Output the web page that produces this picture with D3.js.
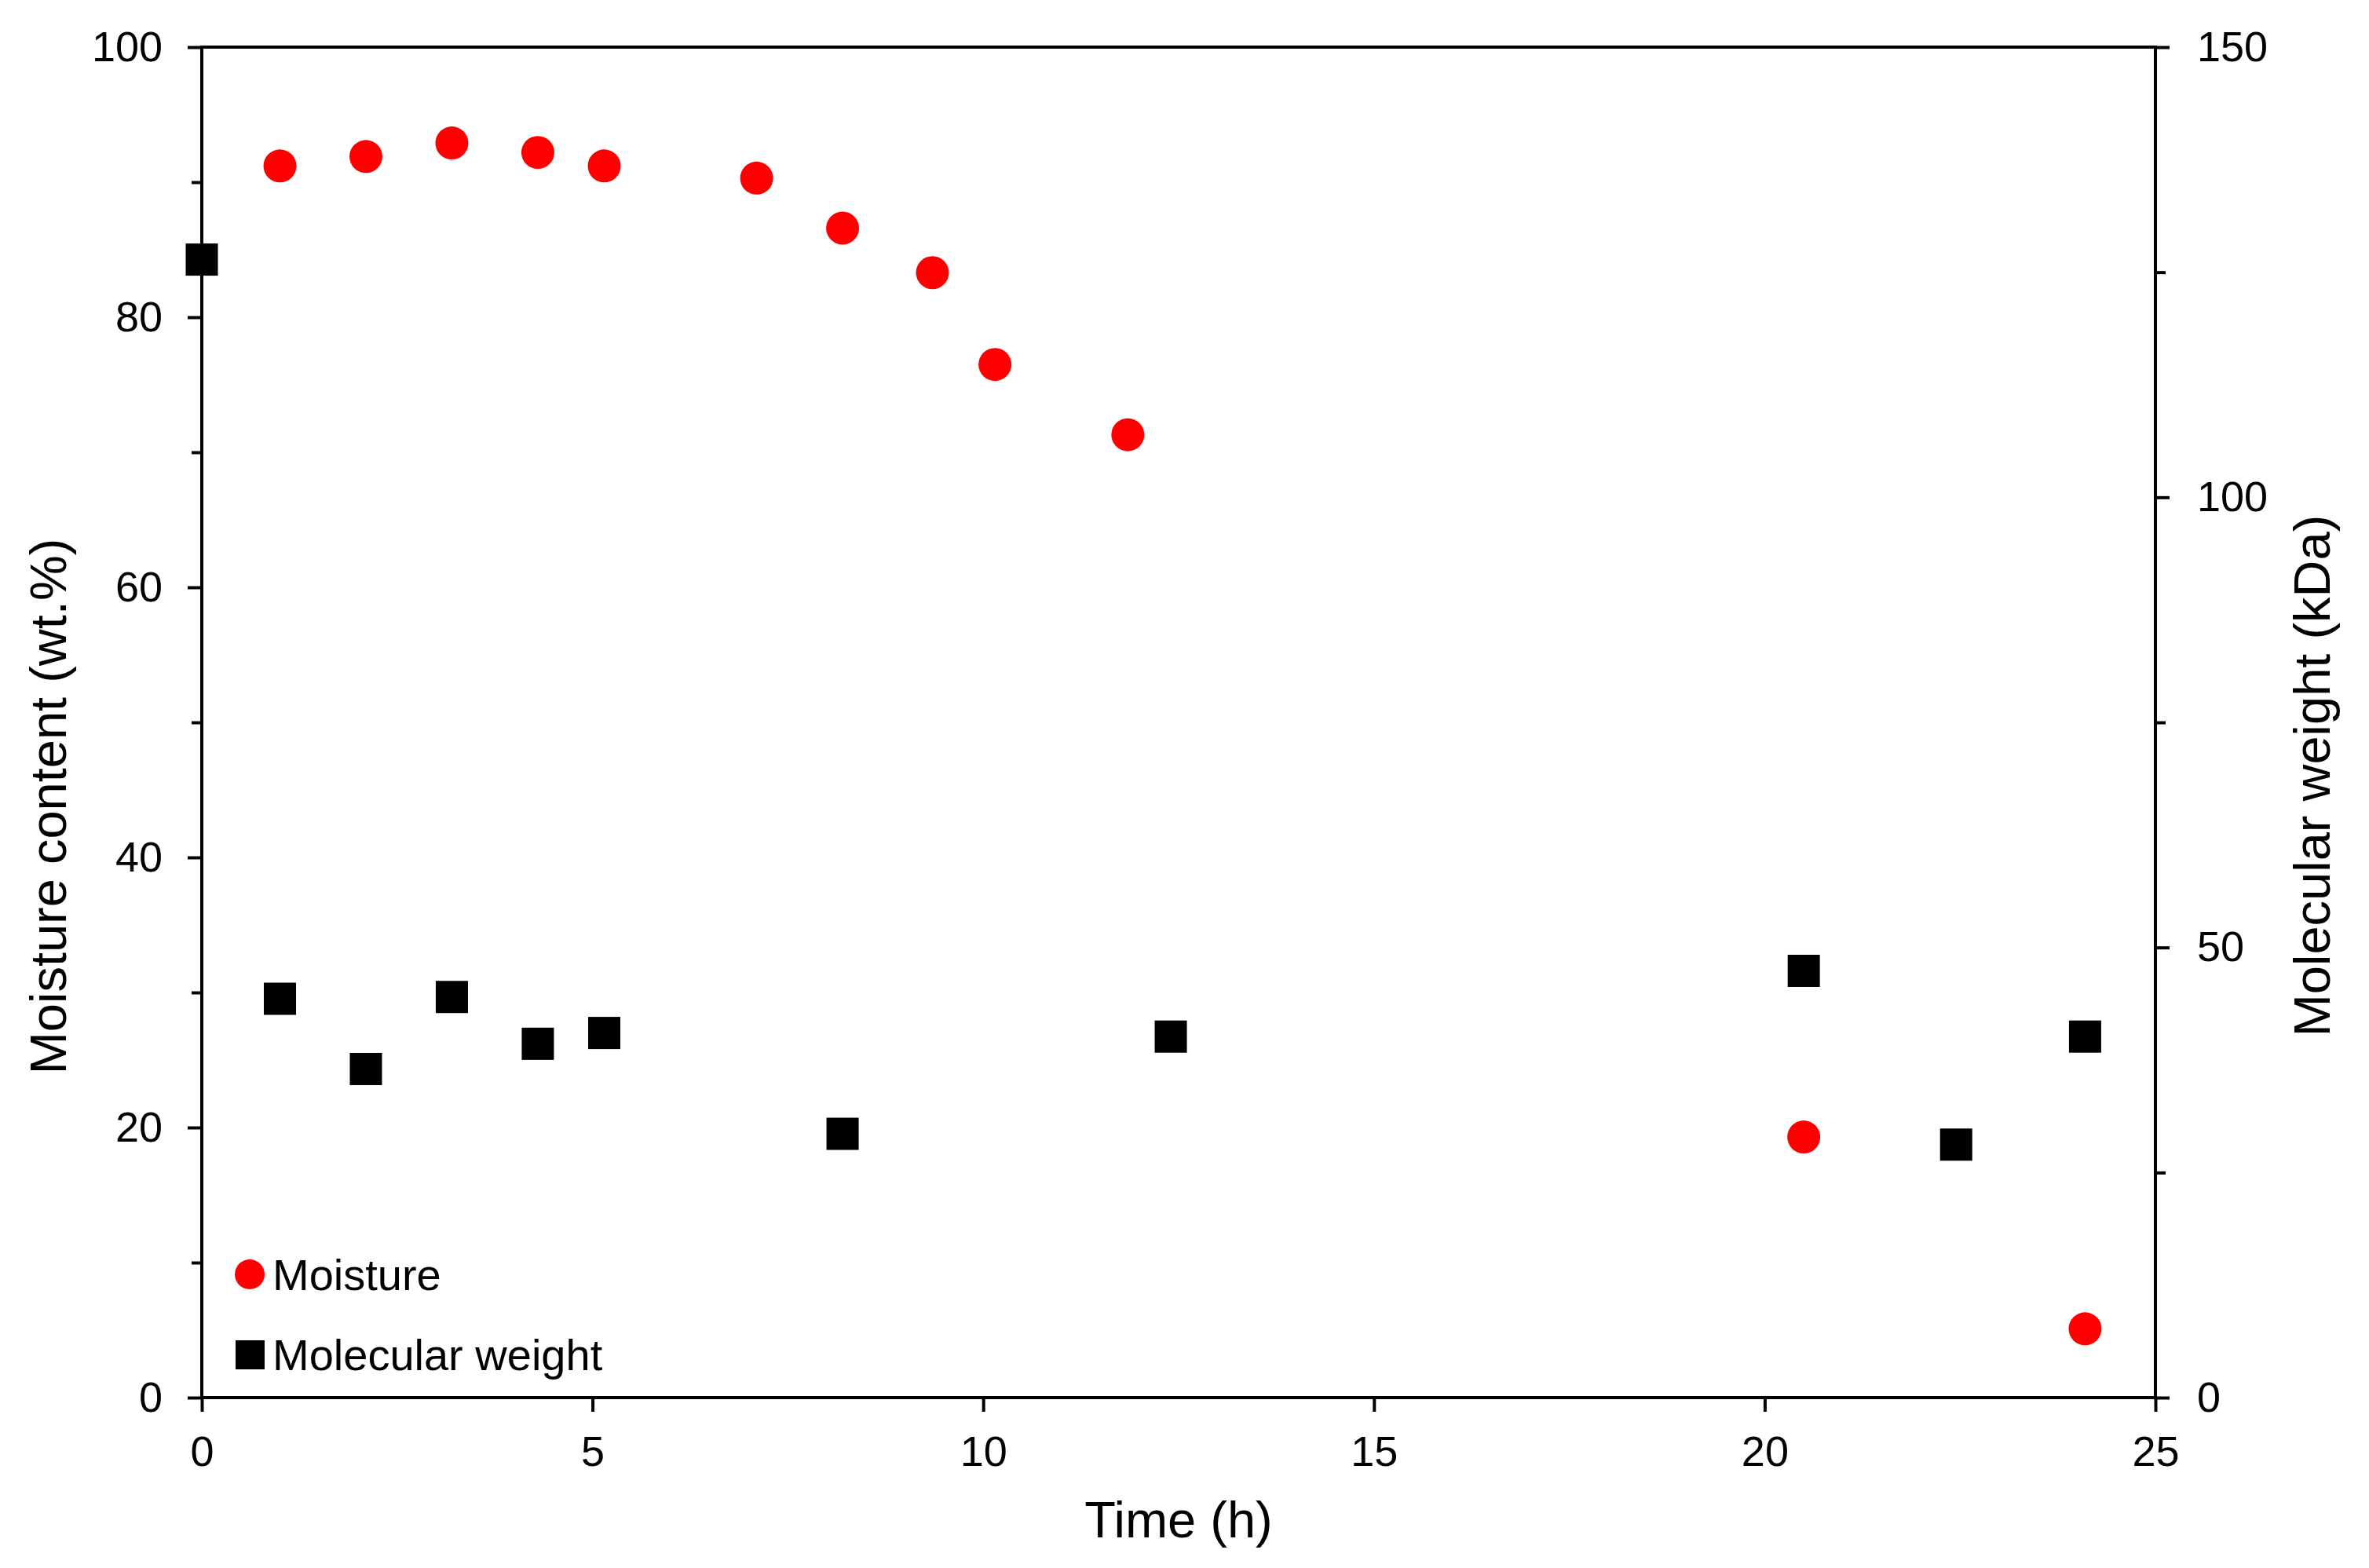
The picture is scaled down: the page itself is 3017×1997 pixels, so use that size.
<!DOCTYPE html>
<html>
<head>
<meta charset="utf-8">
<script src="https://cdn.jsdelivr.net/npm/d3@7"></script>
<style>
  body { margin: 0; background: #fff; }
  svg text { font-family: "Liberation Sans", Arial, sans-serif; fill: #000; }
</style>
</head>
<body>
<div id="chart"></div>
<script>
// Moisture content and molecular weight vs drying time

// Moisture series (left axis, wt.%)
var moistureTime = [1.0, 2.1, 3.2, 4.3, 5.15, 7.1, 8.2, 9.35, 10.15, 11.85, 20.5, 24.1];
var moistureValue = [91.2, 91.9, 92.9, 92.2, 91.2, 90.3, 86.6, 83.3, 76.5, 71.3, 19.3, 5.1];

// Molecular weight series (right axis, kDa)
var mwTime = [0, 1.0, 2.1, 3.2, 4.3, 5.15, 8.2, 12.4, 20.5, 22.45, 24.1];
var mwValue = [126.4, 44.3, 36.5, 44.5, 39.3, 40.5, 29.3, 40.1, 47.4, 28.1, 40.1];

// Tick values
var xTicks = [0, 5, 10, 15, 20, 25];
var yLeftTicks = [0, 20, 40, 60, 80, 100];
var yLeftMinor = [10, 30, 50, 70, 90];
var yRightTicks = [0, 50, 100, 150];
var yRightMinor = [25, 75, 125];

var legendLabels = ["Moisture", "Molecular weight"];

// SVG setup
var svgWidth = 3017;
var svgHeight = 1997;

var margin = { top: 60, right: 272, bottom: 217, left: 257 };
var width = svgWidth - margin.left - margin.right;
var height = svgHeight - margin.top - margin.bottom;

var svg = d3.select("#chart").append("svg")
    .attr("width", svgWidth)
    .attr("height", svgHeight);

var chartGroup = svg.append("g")
    .attr("transform", `translate(${margin.left}, ${margin.top})`);

// Scales
var xScale = d3.scaleLinear().domain([0, 25]).range([0, width]);
var yLeft = d3.scaleLinear().domain([0, 100]).range([height, 0]);
var yRight = d3.scaleLinear().domain([0, 150]).range([height, 0]);

var lineW = 4;
var tickFont = 54;

// Style an axis group
function styleAxis(g) {
    g.select(".domain").remove();
    g.selectAll(".tick line").attr("stroke", "#000").attr("stroke-width", lineW);
    g.selectAll(".tick text").attr("font-size", tickFont).attr("fill", "#000");
}

// Minor ticks first
chartGroup.append("g")
    .call(d3.axisLeft(yLeft).tickValues(yLeftMinor).tickSize(13).tickFormat(""))
    .call(styleAxis);

chartGroup.append("g")
    .attr("transform", `translate(${width}, 0)`)
    .call(d3.axisRight(yRight).tickValues(yRightMinor).tickSize(13).tickFormat(""))
    .call(styleAxis);

// Major axes
chartGroup.append("g")
    .attr("transform", `translate(0, ${height})`)
    .call(d3.axisBottom(xScale).tickValues(xTicks).tickSize(18).tickPadding(31))
    .call(styleAxis);

chartGroup.append("g")
    .call(d3.axisLeft(yLeft).tickValues(yLeftTicks).tickSize(18).tickPadding(32))
    .call(styleAxis);

chartGroup.append("g")
    .attr("transform", `translate(${width}, 0)`)
    .call(d3.axisRight(yRight).tickValues(yRightTicks).tickSize(18).tickPadding(35))
    .call(styleAxis);

// Frame
chartGroup.append("rect")
    .attr("x", 0).attr("y", 0)
    .attr("width", width).attr("height", height)
    .attr("fill", "none")
    .attr("stroke", "#000")
    .attr("stroke-width", lineW);

// Molecular weight squares
var sq = 41;
chartGroup.append("g").selectAll("rect")
    .data(mwTime.map((t, i) => ({ t: t, v: mwValue[i] })))
    .enter().append("rect")
    .attr("x", d => xScale(d.t) - sq / 2)
    .attr("y", d => yRight(d.v) - sq / 2)
    .attr("width", sq)
    .attr("height", sq)
    .attr("fill", "#000");

// Moisture circles
chartGroup.append("g").selectAll("circle")
    .data(moistureTime.map((t, i) => ({ t: t, v: moistureValue[i] })))
    .enter().append("circle")
    .attr("cx", d => xScale(d.t))
    .attr("cy", d => yLeft(d.v))
    .attr("r", 21)
    .attr("fill", "#ff0000");

// Axis titles
var titleFont = 65;
svg.append("text")
    .attr("x", margin.left + width / 2)
    .attr("y", 1958)
    .attr("text-anchor", "middle")
    .attr("font-size", titleFont)
    .text("Time (h)");

svg.append("text")
    .attr("transform", "translate(84, 1027) rotate(-90)")
    .attr("text-anchor", "middle")
    .attr("font-size", titleFont)
    .text("Moisture content (wt.%)");

svg.append("text")
    .attr("transform", "translate(2967, 988) rotate(-90)")
    .attr("text-anchor", "middle")
    .attr("font-size", titleFont)
    .text("Molecular weight (kDa)");

// Legend
var legend = svg.append("g");
legend.append("circle")
    .attr("cx", 318).attr("cy", 1623).attr("r", 19)
    .attr("fill", "#ff0000");
legend.append("text")
    .attr("x", 347).attr("y", 1643)
    .attr("font-size", 56)
    .text(legendLabels[0]);

legend.append("rect")
    .attr("x", 300).attr("y", 1707).attr("width", 37).attr("height", 37)
    .attr("fill", "#000");
legend.append("text")
    .attr("x", 347).attr("y", 1745)
    .attr("font-size", 56)
    .text(legendLabels[1]);
</script>
</body>
</html>
